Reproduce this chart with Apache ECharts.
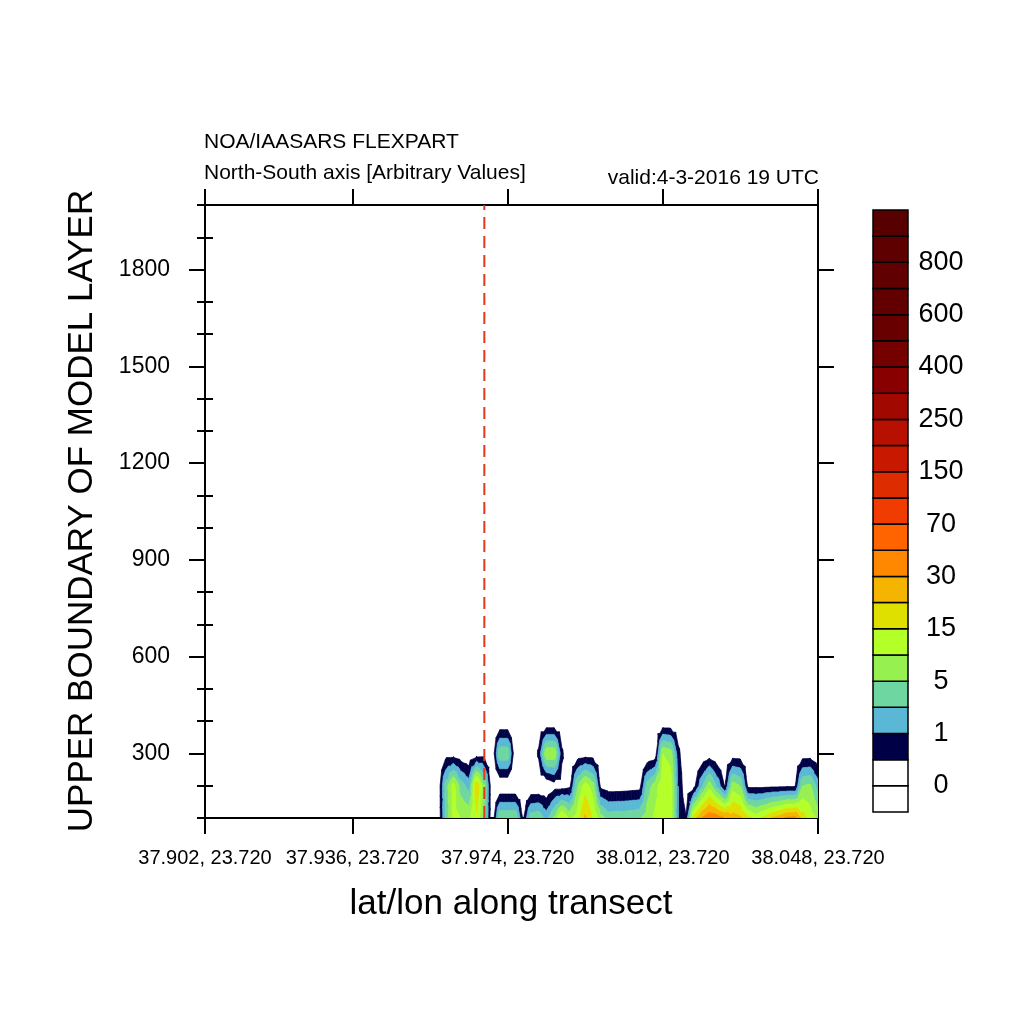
<!DOCTYPE html>
<html><head><meta charset="utf-8">
<script src="https://cdn.jsdelivr.net/npm/echarts@6/dist/echarts.min.js"></script>
<style>html,body{margin:0;padding:0;background:#fff}#c{width:1024px;height:1024px}</style>
</head><body><div id="c"></div>
<script>
// ---------------- data ----------------
const transectLabels = ['37.902, 23.720','37.936, 23.720','37.974, 23.720','38.012, 23.720','38.048, 23.720'];
const transectTickIndex = [0, 19, 39, 59, 79];
const heightTicks = [300, 600, 900, 1200, 1500, 1800];
const heightMinorTicks = [100,200,400,500,700,800,1000,1100,1300,1400,1600,1700,1900,2000];
const gridHeights = [100, 200, 300, 400];
// concentration along the 80 transect points, per model level
const conc_100m = [0,0,0,0,0,0,0,0,0,0, 0,0,0,0,0,0,0,0,0,0, 0,0,0,0,0,0,0,0,0,0,
  0,2.3,11.5,10,9,14,4.4,0,4.7,4.7, 4.7,0.4,3.8,4.4,1.6,6,16,9,12.5,22,
  15,7.5,3.8,4.1,4.1,4.4,4.7,7.5,11,14, 13,1,0.55,17.5,30,46,42,30,25,22,
  16.5,13,16,20,25,34,36,17.5,12.5,9];
const conc_200m = [0,0,0,0,0,0,0,0,0,0, 0,0,0,0,0,0,0,0,0,0, 0,0,0,0,0,0,0,0,0,0,
  0,3.2,12,3.5,1.6,19.5,6,0,0,0, 0,0,0,0,0,0.25,0.25,0.35,5,12.5,
  7.5,0.35,0.2,0.2,0.22,0.25,0.28,3.5,7.5,14, 13,1,0,0.3,1.8,8,1.8,0.45,7.5,5,
  0.35,0.35,0.35,0.38,0.38,0.4,0.4,5,6,1.5];
const conc_300m = [0,0,0,0,0,0,0,0,0,0, 0,0,0,0,0,0,0,0,0,0, 0,0,0,0,0,0,0,0,0,0,
  0,0.25,0.25,0.1,0,0.22,0.25,0,4.4,4.4, 0,0,0,0.6,9.5,9.5,0.6,0,0.15,0.22,
  0.2,0,0,0,0,0,0,0,0.12,10, 8,0.65,0,0,0,0.2,0,0,0.2,0.18,
  0,0,0,0,0,0,0,0.2,0.22,0];
const conc_400m = [0,0,0,0,0,0,0,0,0,0, 0,0,0,0,0,0,0,0,0,0, 0,0,0,0,0,0,0,0,0,0,
  0,0,0,0,0,0,0,0,0,0, 0,0,0,0,0,0,0,0,0,0,
  0,0,0,0,0,0,0,0,0,0, 0,0,0,0,0,0,0,0,0,0,
  0,0,0,0,0,0,0,0,0,0];
const contourLevels = [0,0.5,1,2,5,10,15,20,30,50,70,100,150,200,250,300,400,500,600,700,800,900];
const bandColors = ['#ffffff','#ffffff','#000046','#5ab8d6','#6ed6a0','#96f050','#b4ff28','#e0e000',
  '#f5b400','#ff8800','#ff6400','#f03c00','#dc2c00','#c81800','#b81000','#a00800','#880000',
  '#740000','#680000','#620000','#600000','#5e0000','#580000'];
const colorbarLabelBoundaries = [1,3,5,7,9,11,13,15,17,19,21];
const releaseMarkerIndex = 36;

// ---------------- helpers ----------------
const rows = [conc_100m, conc_200m, conc_300m, conc_400m];
function toF(v){
  const L = contourLevels;
  if (v <= 0) return 0;
  for (let k = 0; k < L.length - 1; k++) {
    if (v < L[k+1]) return k + (v - L[k]) / (L[k+1] - L[k]);
  }
  return L.length - 1 + (v - L[L.length-1]) / 100;
}
const F = rows.map(r => r.map(toF));
const cells = [];
for (let j = 0; j < gridHeights.length - 1; j++) {
  for (let i = 0; i < conc_100m.length - 1; i++) {
    const m = Math.max(F[j][i], F[j][i+1], F[j+1][i], F[j+1][i+1]);
    if (m >= 1) cells.push({i, j});
  }
}
function clipHalf(pts, g){
  const res = [];
  const n = pts.length;
  for (let a = 0; a < n; a++) {
    const P = pts[a], Q = pts[(a+1) % n];
    const gp = g(P), gq = g(Q);
    if (gp >= 0) res.push(P);
    if ((gp >= 0) !== (gq >= 0)) {
      const t = gp / (gp - gq);
      res.push({x: P.x + t*(Q.x-P.x), y: P.y + t*(Q.y-P.y), f: P.f + t*(Q.f-P.f)});
    }
  }
  return res;
}
function renderCell(params, api){
  const c = cells[params.dataIndex];
  const i = c.i, j = c.j;
  const h0 = gridHeights[j], h1 = gridHeights[j+1];
  const mk = (x, h, f) => { const p = api.coord([x, h]); return {x: p[0], y: p[1], f}; };
  const p00 = mk(i, h0, F[j][i]), p10 = mk(i+1, h0, F[j][i+1]);
  const p01 = mk(i, h1, F[j+1][i]), p11 = mk(i+1, h1, F[j+1][i+1]);
  const pc = {x:(p00.x+p10.x+p01.x+p11.x)/4, y:(p00.y+p10.y+p01.y+p11.y)/4, f:(p00.f+p10.f+p01.f+p11.f)/4};
  const tris = [[p00,p10,pc],[p10,p11,pc],[p11,p01,pc],[p01,p00,pc]];
  const children = [];
  for (const tri of tris) {
    const fmax = Math.max(tri[0].f, tri[1].f, tri[2].f);
    const fmin = Math.min(tri[0].f, tri[1].f, tri[2].f);
    for (let lo = 1; lo < bandColors.length - 1; lo++) {
      const hi = (lo === bandColors.length - 2) ? Infinity : lo + 1;
      if (fmax < lo || fmin >= hi) continue;
      let poly = clipHalf(tri, p => p.f - lo);
      if (hi !== Infinity) poly = clipHalf(poly, p => hi - p.f);
      if (poly.length < 3) continue;
      const col = bandColors[lo + 1];
      children.push({type:'polygon', shape:{points: poly.map(p => [p.x, p.y])},
        style:{fill: col, stroke: col, lineWidth: 0.7}});
    }
  }
  return {type:'group', children};
}
function renderBox(params, api){
  const k = params.dataIndex;
  const a = api.coord([0, k]), b = api.coord([1, k+1]);
  return {type:'rect', shape:{x:a[0], y:b[1], width:b[0]-a[0], height:a[1]-b[1]},
    style:{fill: bandColors[k], stroke:'#000', lineWidth:1.5}};
}

const FONT = '"Liberation Sans", Arial, Helvetica, sans-serif';
const chart = echarts.init(document.getElementById('c'));
const txt = (t, x, y, size, align, extra) => Object.assign({
  type:'text', x, y, silent:true, z:10,
  style:{text:t, fill:'#000', fontSize:size, fontFamily:FONT,
    align:align, textAlign:align, verticalAlign:'middle', textVerticalAlign:'middle'}
}, extra || {});

chart.setOption({
  animation:false,
  backgroundColor:'#ffffff',
  grid:[
    {left:205, top:205, width:613, height:613, containLabel:false},
    {left:873, top:210, width:35, height:602, containLabel:false}
  ],
  xAxis:[
    {gridIndex:0, type:'value', min:0, max:79, position:'bottom',
     axisLine:{show:true, onZero:false, lineStyle:{color:'#000', width:2}},
     axisTick:{show:true, customValues:transectTickIndex, length:16, lineStyle:{color:'#000', width:2}},
     axisLabel:{show:true, customValues:transectTickIndex, margin:30, color:'#000', fontSize:20, fontFamily:FONT,
       formatter: v => transectLabels[transectTickIndex.indexOf(Math.round(v))] || ''},
     splitLine:{show:false}},
    {gridIndex:0, type:'value', min:0, max:79, position:'top',
     axisLine:{show:true, onZero:false, lineStyle:{color:'#000', width:2}},
     axisTick:{show:true, customValues:transectTickIndex, length:16, lineStyle:{color:'#000', width:2}},
     axisLabel:{show:false}, splitLine:{show:false}},
    {gridIndex:1, type:'value', min:0, max:1, show:false}
  ],
  yAxis:[
    {gridIndex:0, type:'value', min:100, max:2000, position:'left',
     axisLine:{show:true, onZero:false, lineStyle:{color:'#000', width:2}},
     axisTick:{show:true, customValues:heightTicks, length:16, lineStyle:{color:'#000', width:2}},
     axisLabel:{show:true, customValues:heightTicks, margin:35, color:'#000', fontSize:23, fontFamily:FONT,
       formatter: v => String(Math.round(v))},
     splitLine:{show:false}},
    {gridIndex:0, type:'value', min:100, max:2000, position:'left',
     axisLine:{show:false},
     axisTick:{show:true, customValues:heightMinorTicks, length:8, lineStyle:{color:'#000', width:2}},
     axisLabel:{show:false}, splitLine:{show:false}},
    {gridIndex:0, type:'value', min:100, max:2000, position:'right',
     axisLine:{show:true, onZero:false, lineStyle:{color:'#000', width:2}},
     axisTick:{show:true, customValues:heightTicks, length:16, lineStyle:{color:'#000', width:2}},
     axisLabel:{show:false}, splitLine:{show:false}},
    {gridIndex:0, type:'value', min:100, max:2000, position:'right',
     axisLine:{show:false},
     axisTick:{show:true, customValues:heightMinorTicks, length:8, lineStyle:{color:'#000', width:2}},
     axisLabel:{show:false}, splitLine:{show:false}},
    {gridIndex:1, type:'value', min:0, max:23, position:'right',
     axisLine:{show:false}, axisTick:{show:false}, splitLine:{show:false},
     axisLabel:{show:true, customValues:colorbarLabelBoundaries, margin:33, align:'center',
       color:'#000', fontSize:27, fontFamily:FONT,
       formatter: v => String(contourLevels[Math.round(v) - 1])}}
  ],
  series:[
    {type:'custom', name:'concentration', xAxisIndex:0, yAxisIndex:0, clip:true, silent:true,
     renderItem: renderCell,
     data: cells.map(c => [c.i + 0.5, gridHeights[c.j] + 50])},
    {type:'line', xAxisIndex:0, yAxisIndex:0, silent:true, symbol:'none', z:5,
     data:[[releaseMarkerIndex, 100], [releaseMarkerIndex, 2000]],
     lineStyle:{color:'#e23a1c', width:2, type:[12, 7]}},
    {type:'custom', name:'colorbar', xAxisIndex:2, yAxisIndex:4, silent:true,
     renderItem: renderBox,
     data: bandColors.map((c, k) => [0.5, k + 0.5])}
  ],
  graphic:[
    txt('NOA/IAASARS FLEXPART', 204, 142, 21, 'left'),
    txt('North-South axis [Arbitrary Values]', 204, 173, 21, 'left'),
    txt('valid:4-3-2016 19 UTC', 819, 178, 21, 'right'),
    txt('lat/lon along transect', 511, 904, 35, 'center'),
    txt('UPPER BOUNDARY OF MODEL LAYER', 82, 511, 35, 'center', {rotation: Math.PI/2})
  ]
});
</script>
</body></html>
